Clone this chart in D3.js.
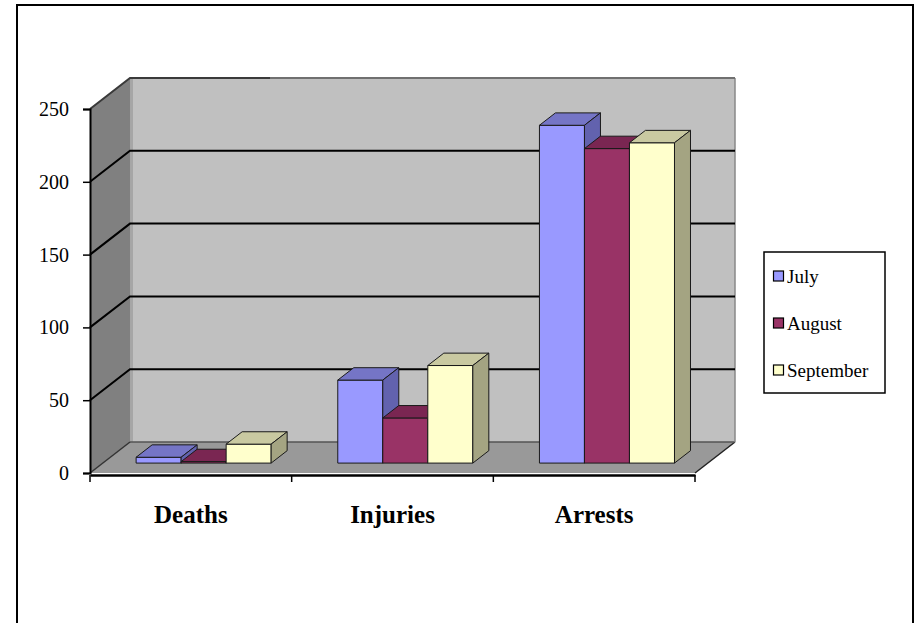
<!DOCTYPE html>
<html><head><meta charset="utf-8">
<script src="https://cdn.jsdelivr.net/npm/d3@7"></script>
<style>html,body{margin:0;padding:0;background:#fff;}svg{display:block;}</style>
</head><body>
<script>
const categories = ["Deaths", "Injuries", "Arrests"];
const seriesNames = ["July", "August", "September"];
const july = [4, 57, 232];
const august = [1, 31, 216];
const september = [13, 67, 220];
const yTickValues = [0, 50, 100, 150, 200, 250];
const frontColors = ["#9999FF", "#993366", "#FFFFCC"];
const topColors = ["#7575C6", "#7A2652", "#C9C9A1"];
const sideColors = ["#6262AE", "#6A1F46", "#A4A482"];

const W = 917, H = 623;
const svg = d3.select("body").append("svg").attr("width", W).attr("height", H);
const font = "'Liberation Serif','Times New Roman',serif";

// outer border
svg.append("rect").attr("x", 17).attr("y", 5).attr("width", 896).attr("height", 640)
  .attr("fill", "#fff").attr("stroke", "#000").attr("stroke-width", 2);

const depthX = 40, depthY = -31;
const x = d3.scaleBand().domain(categories).range([90, 695]);
const y = d3.scaleLinear().domain([0, 250]).range([473, 109]);
const xs = d3.scaleBand().domain(seriesNames).range([0, x.bandwidth()]).paddingOuter(0.74);
const P = (px, v, d) => [px + d * depthX, y(v) + d * depthY];
const poly = pts => "M" + pts.map(p => p.join(",")).join("L") + "Z";

const x0 = x.range()[0], x1 = x.range()[1];
const vmax = 250;
// back wall
svg.append("path").attr("d", poly([P(x0, 0, 1), P(x1, 0, 1), P(x1, vmax, 1), P(x0, vmax, 1)]))
  .attr("fill", "#C0C0C0");
svg.append("rect").attr("x", x0 + depthX).attr("y", y(vmax) + depthY).attr("width", 3)
  .attr("height", y(0) - y(vmax)).attr("fill", "#A6A6A6");
// side wall
svg.append("path").attr("d", poly([P(x0, 0, 0), P(x0, 0, 1), P(x0, vmax, 1), P(x0, vmax, 0)]))
  .attr("fill", "#808080");
// floor
svg.append("path").attr("d", poly([P(x0, 0, 0), P(x1, 0, 0), P(x1, 0, 1), P(x0, 0, 1)]))
  .attr("fill", "#999999");
// floor edges
svg.append("path").attr("d", "M" + P(x1, 0, 0).join(",") + "L" + P(x1, 0, 1).join(","))
  .attr("stroke", "#222").attr("stroke-width", 1.5).attr("fill", "none");
svg.append("path").attr("d", "M" + P(x0, 0, 1).join(",") + "L" + P(x1, 0, 1).join(","))
  .attr("stroke", "#555").attr("stroke-width", 1.5).attr("fill", "none");
// back wall right edge
svg.append("path").attr("d", "M" + P(x1, 0, 1).join(",") + "L" + P(x1, vmax, 1).join(","))
  .attr("stroke", "#888").attr("stroke-width", 1.5).attr("fill", "none");
// gridlines
const gridVals = yTickValues.filter(v => v > 0 && v < vmax);
svg.append("g").selectAll("path").data(gridVals).join("path")
  .attr("d", v => "M" + P(x0, v, 0).join(",") + "L" + P(x0, v, 1).join(",") + "L" + P(x1, v, 1).join(","))
  .attr("stroke", "#000").attr("stroke-width", 2).attr("fill", "none");
// top edges
svg.append("path").attr("d", "M" + P(x1, vmax, 1).join(",") + "L" + P(x0 + 140, vmax, 1).join(","))
  .attr("stroke", "#707070").attr("stroke-width", 2).attr("fill", "none");
svg.append("path").attr("d", "M" + P(x0, vmax, 0).join(",") + "L" + P(x0, vmax, 1).join(",") + "L" + P(x0 + 140, vmax, 1).join(","))
  .attr("stroke", "#3a3a3a").attr("stroke-width", 2).attr("fill", "none");
svg.append("path").attr("d", "M" + P(x0, 0, 0).join(",") + "L" + P(x0, 0, 1).join(","))
  .attr("stroke", "#333").attr("stroke-width", 1.5).attr("fill", "none");

// bars
const dF = 0.32, dB = 0.72;
const seriesData = [july, august, september];
const bars = [];
categories.forEach((c, ci) => {
  seriesNames.forEach((s, si) => {
    bars.push({c, s, si, v: seriesData[si][ci]});
  });
});
const gb = svg.append("g");
bars.forEach(b => {
  const bx0 = x(b.c) + xs(b.s), bx1 = bx0 + xs.bandwidth();
  const g = gb.append("g").attr("stroke", "#1a1a1a").attr("stroke-width", 1).attr("stroke-linejoin", "round");
  g.append("path").attr("d", poly([P(bx0, 0, dF), P(bx1, 0, dF), P(bx1, b.v, dF), P(bx0, b.v, dF)]))
    .attr("fill", frontColors[b.si]);
  g.append("path").attr("d", poly([P(bx0, b.v, dF), P(bx1, b.v, dF), P(bx1, b.v, dB), P(bx0, b.v, dB)]))
    .attr("fill", topColors[b.si]);
  g.append("path").attr("d", poly([P(bx1, 0, dF), P(bx1, 0, dB), P(bx1, b.v, dB), P(bx1, b.v, dF)]))
    .attr("fill", sideColors[b.si]);
});

// y axis
const yAxis = d3.axisLeft(y).tickValues(yTickValues).tickSize(7).tickPadding(14).tickFormat(d3.format("d"));
const gy = svg.append("g").attr("transform", `translate(${x0},0)`).call(yAxis);
gy.select(".domain").attr("stroke", "#000").attr("stroke-width", 2);
gy.selectAll(".tick line").attr("stroke", "#000").attr("stroke-width", 1.5);
gy.selectAll(".tick text").attr("font-family", font).attr("font-size", 20).attr("fill", "#000");

// x axis
const xAxis = d3.axisBottom(x).tickSize(0).tickPadding(30);
const gx = svg.append("g").attr("transform", `translate(0,${y(0) + 2})`).call(xAxis);
gx.select(".domain").attr("stroke", "#000").attr("stroke-width", 2.5);
gx.selectAll(".tick text").attr("font-family", font).attr("font-size", 25).attr("font-weight", "bold").attr("fill", "#000");
const bounds = [...categories.map(c => x(c)), x1];
gx.append("g").selectAll("line").data(bounds).join("line")
  .attr("x1", d => d).attr("x2", d => d).attr("y1", 0).attr("y2", 7)
  .attr("stroke", "#000").attr("stroke-width", 1.5);

// legend
const lg = svg.append("g");
lg.append("rect").attr("x", 764).attr("y", 252).attr("width", 121).attr("height", 141)
  .attr("fill", "#fff").attr("stroke", "#000").attr("stroke-width", 1.5);
const ly = d3.scalePoint().domain(seriesNames).range([276, 370]);
seriesNames.forEach((s, i) => {
  lg.append("rect").attr("x", 773.5).attr("y", ly(s) - 5).attr("width", 10).attr("height", 10)
    .attr("fill", frontColors[i]).attr("stroke", "#000").attr("stroke-width", 1.2);
  lg.append("text").attr("x", 787).attr("y", ly(s)).attr("dy", "0.35em")
    .attr("font-family", font).attr("font-size", 19).text(s);
});
</script>
</body></html>
